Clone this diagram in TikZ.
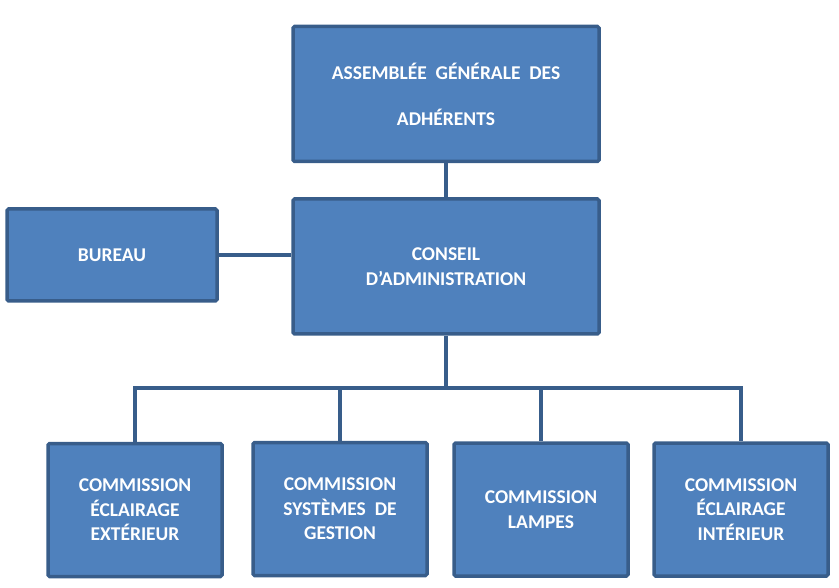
\documentclass[tikz,border=0pt]{standalone}
\usepackage{fontspec}
\setmainfont{Carlito}
\usetikzlibrary{positioning}
\definecolor{boxfill}{HTML}{4F81BD}
\definecolor{boxline}{HTML}{385D8A}

\begin{document}
\begin{tikzpicture}[x=1pt,y=-1pt,
  orgbox/.style={draw=boxline,line width=3.5pt,fill=boxfill,rounded corners=1.5pt,
    text=white,font=\bfseries\fontsize{19.5}{24.5}\selectfont,align=center,inner sep=0pt},
  link/.style={draw=boxline,line width=3.5pt}]
\useasboundingbox (0,0) rectangle (839,588);
% boxes
\node[orgbox,minimum width=306,minimum height=135,font=\bfseries\fontsize{19.5}{46}\selectfont] (ag) at (446,94) {ASSEMBLÉE\ \ GÉNÉRALE\ \ DES\\ADHÉRENTS};
\node[orgbox,minimum width=306,minimum height=135] (ca) at (446,266.5) {CONSEIL\\D’ADMINISTRATION};
\node[orgbox,minimum width=210,minimum height=92] (bureau) at (112,255) {BUREAU};
\node[orgbox,minimum width=174,minimum height=133] (ceext) at (135,510) {COMMISSION\\ÉCLAIRAGE\\EXTÉRIEUR};
\node[orgbox,minimum width=174,minimum height=133] (csg) at (340,509) {COMMISSION\\SYSTÈMES\ \ DE\\GESTION};
\node[orgbox,minimum width=174,minimum height=133] (clamp) at (541,509.5) {COMMISSION\\LAMPES};
\node[orgbox,minimum width=174,minimum height=133] (ceint) at (741,509.5) {COMMISSION\\ÉCLAIRAGE\\INTÉRIEUR};
\coordinate (bus) at (446,388);
% links
\draw[link] (ag) -- (ca);
\draw[link] (bureau.east) -- (bureau.east -| ca.west);
\draw[link] (ca.south) -- (bus);
\draw[link] (ceext.north) -- (ceext.north |- bus) -- (ceint.north |- bus) -- (ceint.north);
\draw[link] (csg.north) -- (csg.north |- bus);
\draw[link] (clamp.north) -- (clamp.north |- bus);
\end{tikzpicture}
\end{document}
